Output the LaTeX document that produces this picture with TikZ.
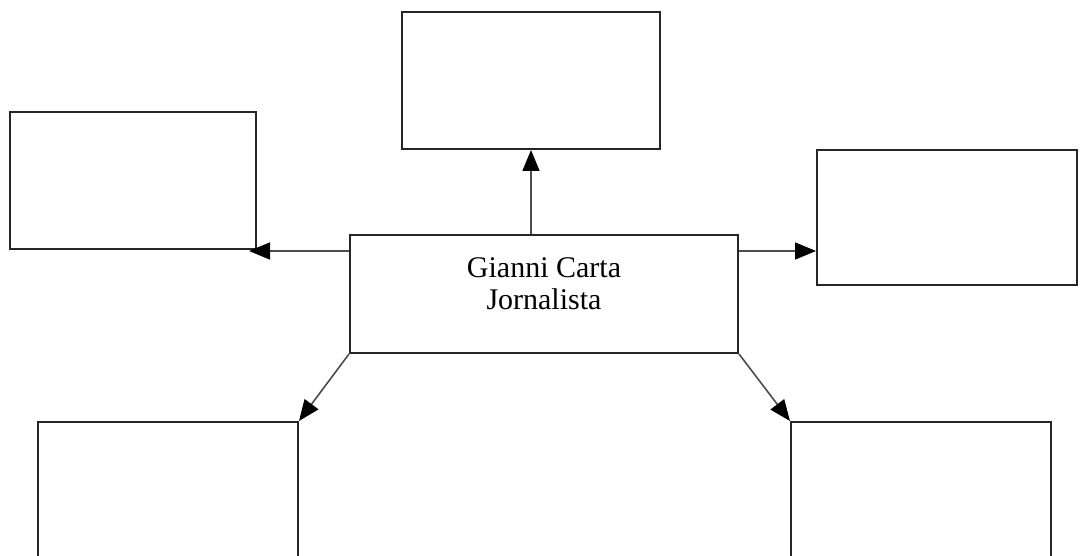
\documentclass[tikz,border=0pt]{standalone}
\usepackage{fontspec}
\setmainfont{Liberation Serif}
\usetikzlibrary{arrows.meta}
\begin{document}
\begin{tikzpicture}[x=1pt,y=-1pt,
  boxnode/.style={draw=black!85,line width=2pt,rectangle,inner sep=0pt},
  link/.style={draw=black!70,line width=1.6pt,-{Triangle[length=21pt,width=17pt,fill=black,color=black]}}]
\clip (0,0) rectangle (1080,556);
\fill[white] (0,0) rectangle (1080,556);
\node[boxnode,minimum width=258pt,minimum height=137pt] (top) at (531,80.5) {};
\node[boxnode,minimum width=246pt,minimum height=137pt] (left) at (133,180.5) {};
\node[boxnode,minimum width=260pt,minimum height=135pt] (right) at (947,217.5) {};
\node[boxnode,minimum width=388pt,minimum height=118pt] (center) at (544,294) {};
\node[font=\fontsize{30}{32}\selectfont,align=center] (label) at (544,284) {Gianni Carta\\Jornalista};
\node[boxnode,minimum width=260pt,minimum height=170pt] (bl) at (168,507) {};
\node[boxnode,minimum width=260pt,minimum height=170pt] (br) at (921,507) {};
\draw[link] (center.north -| top.south) -- (top.south);
\coordinate (cl) at ([yshift=-17pt]center.north west);
\draw[link] (cl) -- ([xshift=-8pt]cl -| left.east);
\coordinate (cr) at ([yshift=-17pt]center.north east);
\draw[link] (cr) -- (cr -| right.west);
\draw[link] (center.south west) -- (bl.north east);
\draw[link] (center.south east) -- (br.north west);
\end{tikzpicture}
\end{document}
